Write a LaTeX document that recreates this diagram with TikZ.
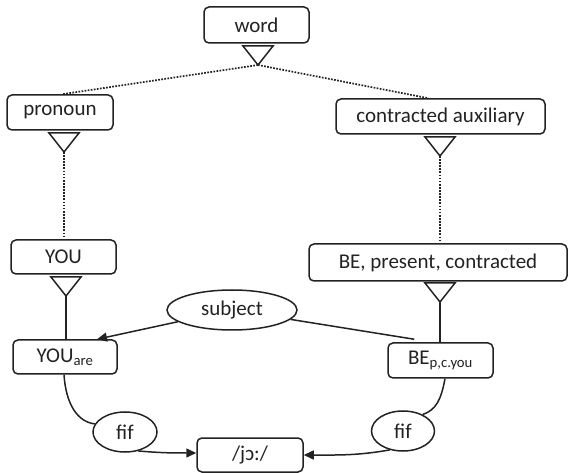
\documentclass[tikz,border=0pt]{standalone}
\usepackage{fontspec}
\setmainfont{Carlito}
\usetikzlibrary{calc,arrows.meta,shapes.geometric}
\definecolor{ink}{HTML}{222222}
\tikzset{
  box/.style={draw=ink, text=ink, rounded corners=5pt, line width=1.5pt, inner sep=0pt, font=\fontsize{21}{24}\selectfont},
  oval/.style={draw=ink, text=ink, ellipse, line width=1.5pt, inner sep=0pt, font=\fontsize{21}{24}\selectfont},
  isa/.style={draw=ink, line width=1.5pt, line join=miter},
  dots/.style={draw=ink, line width=1.7pt, dash pattern=on 1.7pt off 1.4pt},
  link/.style={draw=ink, line width=1.5pt},
  arr/.style={draw=ink, line width=1.5pt, -{Triangle[length=10pt,width=9pt]}},
}
\begin{document}
\begin{tikzpicture}[x=1pt,y=-1pt]
\useasboundingbox (0,0) rectangle (571,473);
% boxes
\node[box, minimum width=105pt, minimum height=36pt] (word) at (256.5,25) {word};
\node[box, minimum width=106pt, minimum height=35pt] (pronoun) at (60,112.5) {pronoun};
\node[box, minimum width=209pt, minimum height=35pt] (caux) at (440.5,116.5) {contracted auxiliary};
\node[box, minimum width=105pt, minimum height=34pt] (you) at (63.5,257) {YOU};
\node[box, minimum width=258pt, minimum height=37pt] (be) at (438,262.5) {BE, present, contracted};
\node[box, minimum width=104pt, minimum height=34pt] (youare) at (65,357) {YOU\textsubscript{are}};
\node[box, minimum width=105pt, minimum height=35pt] (bep) at (440.5,360.5) {BE\textsubscript{p,c.you}};
\node[box, minimum width=106pt, minimum height=34pt] (jo) at (250,455) {/jɔ:/};
% ellipses
\node[oval, minimum width=130pt, minimum height=40pt] (subject) at (232,310) {subject};
\node[oval, minimum width=64pt, minimum height=40pt] (fifa) at (125,432) {fif};
\node[oval, minimum width=63pt, minimum height=40pt] (fifb) at (403,431) {fif};
% isa triangles (apex coordinates)
\coordinate (tw) at (258,65);
\coordinate (tp) at (64,152);
\coordinate (tc) at (440,156);
\coordinate (ty) at (66,296);
\coordinate (tb) at (440,302);
\foreach \t in {tw,tp,tc,ty,tb}{
  \draw[isa] (\t) -- ++(-15,-19) -- ++(30,0) -- cycle;
}
% dotted isa links
\draw[dots] (tw) -- ($(pronoun.north)+(2,0)$);
\draw[dots] (tw) -- ($(caux.north)+(-12,0)$);
\draw[dots] (tp) -- (tp |- you.north);
\draw[dots] (tc) -- (tc |- be.north);
% solid isa links
\draw[link] (ty) -- (ty |- youare.north);
\draw[link] (tb) -- (tb |- bep.north);
% subject
\draw[arr] (subject) -- ($(youare.north)+(32,0)$);
\draw[link] (subject) -- ($(bep.north west)+(27,-3)$);
% fif links
\draw[link] ($(youare.south)+(-1,0)$) .. controls (66,405) and (78,422) .. (fifa.165);
\draw[link] ($(bep.south)+(4.5,0)$) .. controls (441,400) and (436,410) .. (fifb.40);
\draw[arr] (fifa.-55) to[out=-5,in=180] ($(jo.west)+(0,-2)$);
\draw[arr] (fifb.-125) to[out=190,in=0] (jo.east);
\end{tikzpicture}
\end{document}
